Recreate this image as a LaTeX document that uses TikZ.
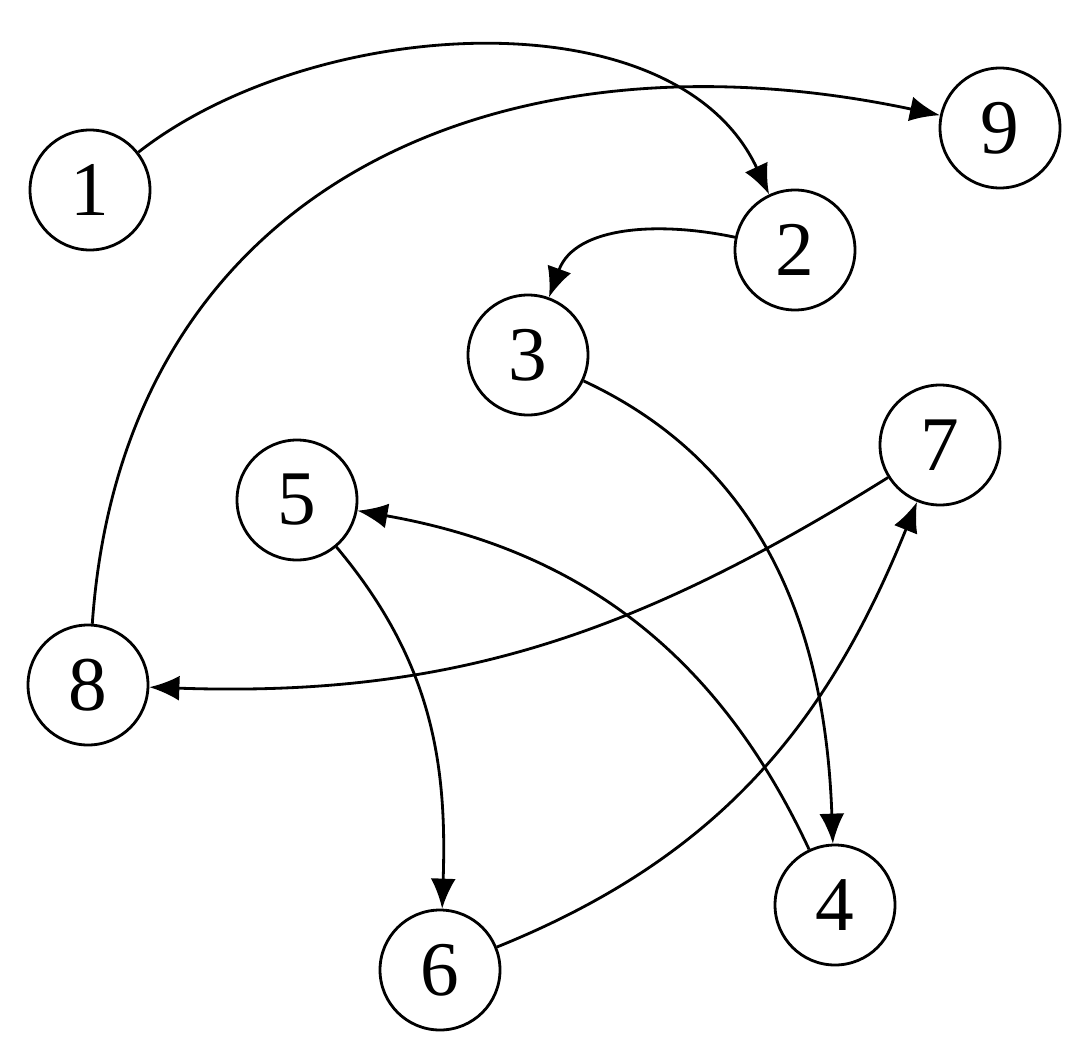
\documentclass[tikz,border=0pt]{standalone}
\usepackage{fontspec}
\setmainfont{Liberation Serif}
\usetikzlibrary{arrows.meta}
\tikzstyle{vertex}=[circle, draw, thick, minimum size=1.2cm, inner sep=0pt, font=\fontsize{22}{22}\selectfont]
\tikzstyle{edge}=[thick, -{Latex[length=3mm,width=2.5mm]}]

\begin{document}
\begin{tikzpicture}
    \useasboundingbox (0,0) rectangle (10.92,-10.48);
    \node [vertex] (v1) at (0.90,-1.90) {1};
    \node [vertex] (v9) at (10.00,-1.28) {9};
    \node [vertex] (v2) at (7.95,-2.50) {2};
    \node [vertex] (v3) at (5.28,-3.55) {3};
    \node [vertex] (v7) at (9.40,-4.45) {7};
    \node [vertex] (v5) at (2.97,-5.00) {5};
    \node [vertex] (v8) at (0.88,-6.85) {8};
    \node [vertex] (v4) at (8.35,-9.05) {4};
    \node [vertex] (v6) at (4.40,-9.70) {6};
    \draw [edge] (v1) to[out=38,in=115,looseness=0.9] (v2);
    \draw [edge] (v8) to[out=86,in=168,looseness=1.15] (v9);
    \draw [edge] (v2) to[out=168,in=70] (v3);
    \draw [edge] (v3) to[out=-25,in=92] (v4);
    \draw [edge] (v7) to[out=212,in=-2] (v8);
    \draw [edge] (v4) to[out=115,in=-10] (v5);
    \draw [edge] (v5) to[out=-50,in=88] (v6);
    \draw [edge] (v6) to[out=22,in=-112] (v7);
\end{tikzpicture}
\end{document}
